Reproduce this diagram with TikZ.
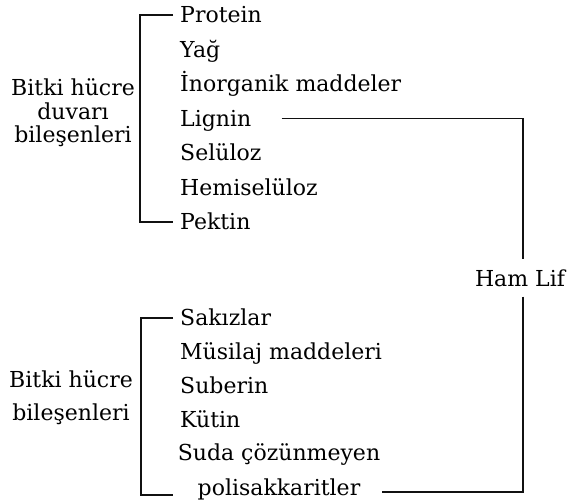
\documentclass[tikz,border=0pt]{standalone}
\usepackage{fontspec}
\setmainfont{DejaVu Serif}
\usepackage{xcolor}
\usetikzlibrary{positioning,calc}
\definecolor{hfink}{HTML}{000000}
\definecolor{hfline}{HTML}{111111}

\begin{document}
\begin{tikzpicture}[x=1pt,y=-1pt,
  item/.style={anchor=west, inner xsep=7pt, inner ysep=0pt, text height=16pt, text depth=0pt,
    font=\fontsize{22}{34.5}\selectfont, text=hfink},
  grouplabel/.style={align=center, inner sep=0pt, text=hfink},
  link/.style={draw=hfline, line width=1.7pt}]
  \fill[white] (0,0) rectangle (571,502);
  \useasboundingbox (0,0) rectangle (571,502);

  % Upper group: cell wall components
  \node[grouplabel, font=\fontsize{22}{23.5}\selectfont] (wall) at (73,113) {Bitki hücre\\duvarı\\bileşenleri};
  \node[item] (protein) at (173,15) {Protein};
  \node[item] (yag) at (173,49.5) {Yağ};
  \node[item] (inorg) at (173,84) {İnorganik maddeler};
  \node[item] (lignin) at (173,118.5) {Lignin};
  \node[item] (seluloz) at (173,153) {Selüloz};
  \node[item] (hemi) at (173,187.5) {Hemiselüloz};
  \node[item] (pektin) at (173,222) {Pektin};
  \draw[link] (protein.west) -- ++(-33,0) |- (pektin.west);

  % Lower group: cell components
  \node[grouplabel, font=\fontsize{22}{33}\selectfont] (cell) at (71,398) {Bitki hücre\\bileşenleri};
  \node[item] (sakiz) at (173,318) {Sakızlar};
  \node[item] (musilaj) at (173,352) {Müsilaj maddeleri};
  \node[item] (suberin) at (173,386) {Suberin};
  \node[item] (kutin) at (173,420) {Kütin};
  \node[grouplabel, font=\fontsize{22}{34.5}\selectfont] (suda) at (279,472) {Suda çözünmeyen\\polisakkaritler};
  \coordinate (sudaend) at (173,495);
  \draw[link] (sakiz.west) -- ++(-32,0) |- (sudaend);

  % Crude fibre
  \node[font=\fontsize{22}{26}\selectfont, text=hfink, inner xsep=0pt, inner ysep=10pt] (hamlif) at (520,278) {Ham Lif};
  \coordinate (fibreend) at (382,492);
  \draw[link, shorten <=23pt] (lignin.east) -| ([xshift=3pt]hamlif.north);
  \draw[link] ([xshift=3pt]hamlif.south) |- (fibreend);
\end{tikzpicture}
\end{document}
